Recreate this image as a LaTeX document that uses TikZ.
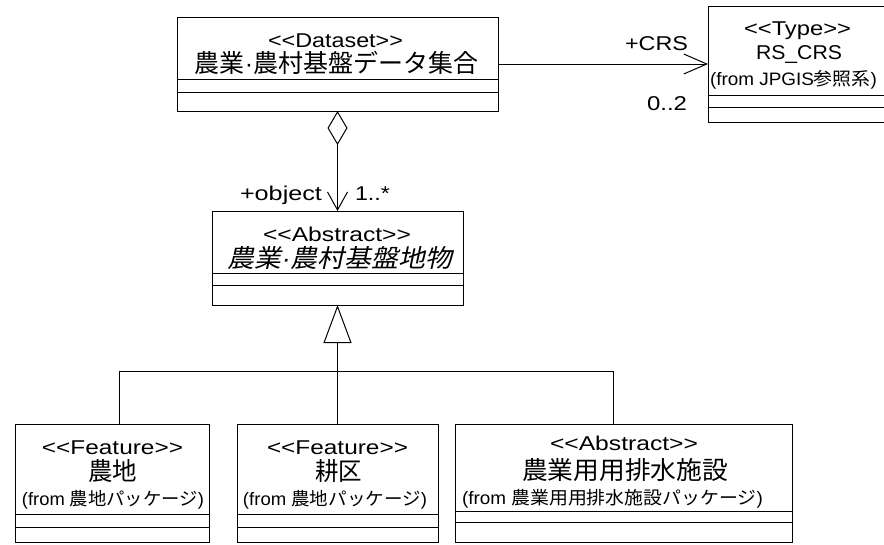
\documentclass[tikz,border=0pt]{standalone}
\usepackage{fontspec}
\usepackage{graphicx}
\setmainfont{Liberation Sans}
\newfontfamily\jp{Noto Sans CJK JP}
\newfontfamily\jpit[FakeSlant=0.2]{Noto Sans CJK JP}
\usetikzlibrary{arrows.meta}
\newcommand{\fitw}[2]{\resizebox{#1pt}{\height}{#2}}
\tikzset{
  umlbox/.style={draw, line width=1pt, rectangle, inner sep=0pt, outer sep=0pt},
  txt/.style={inner sep=0pt, outer sep=0pt, anchor=base},
  ctxt/.style={inner sep=0pt, outer sep=0pt, anchor=center},
  lat/.style={font=\fontsize{20}{22}\selectfont},
  frm/.style={font=\fontsize{18}{20}\selectfont},
  cjk/.style={font=\jp\fontsize{25}{28}\selectfont},
  cjkit/.style={font=\jpit\fontsize{25}{28}\selectfont},
  conn/.style={line width=1pt},
  divider/.style={line width=1pt},
}
\begin{document}
\begin{tikzpicture}[x=1pt,y=-1pt]
\useasboundingbox[fill=white] (0,0) rectangle (884,544);

% ---- boxes ----
\node[umlbox, minimum width=321pt, minimum height=94pt] (ds) at (337.5,64) {};
\node[umlbox, minimum width=178pt, minimum height=116pt] (crs) at (797,64) {};
\node[umlbox, minimum width=251pt, minimum height=94pt] (ab) at (337.5,258) {};
\node[umlbox, minimum width=194pt, minimum height=118pt] (fa) at (112,483) {};
\node[umlbox, minimum width=201pt, minimum height=118pt] (fb) at (337.5,483) {};
\node[umlbox, minimum width=337pt, minimum height=118pt] (fc) at (623.5,483) {};

% ---- compartments ----
\draw[divider] (177,79) -- (498,79);
\draw[divider] (177,92) -- (498,92);
\draw[divider] (708,95) -- (886,95);
\draw[divider] (708,107) -- (886,107);
\draw[divider] (212,273) -- (463,273);
\draw[divider] (212,285) -- (463,285);
\draw[divider] (15,514) -- (209,514);
\draw[divider] (15,527) -- (209,527);
\draw[divider] (237,514) -- (438,514);
\draw[divider] (237,527) -- (438,527);
\draw[divider] (455,511) -- (792,511);
\draw[divider] (455,522) -- (792,522);

% ---- texts ----
\node[txt,lat] (t1) at (335.5,47.5) {\fitw{135}{<{}<Dataset>{}>}};
\node[ctxt,cjk] (t2) at (336.5,62.5) {\fitw{283}{農業{\fontspec{Liberation Sans}·}農村基盤データ集合}};

\node[txt,lat] (t3) at (797.5,35) {\fitw{107}{<{}<Type>{}>}};
\node[txt,lat] (t4) at (799,59.3) {\fitw{86}{RS\_CRS}};
\node[txt,frm] (t5) at (793.5,85) {\fitw{167}{(from JPGIS{\jp 参照系})}};

\node[txt,lat] (t6) at (337,241.7) {\fitw{148}{<{}<Abstract>{}>}};
\node[ctxt,cjkit] (t7) at (340,258.3) {\fitw{224}{農業{\fontspec{Liberation Sans}\itshape ·}農村基盤地物}};

\node[txt,lat] (t8) at (112.5,454) {\fitw{141}{<{}<Feature>{}>}};
\node[ctxt,cjk] (t9) at (112.5,471) {\fitw{49}{農地}};
\node[txt,frm] (t10) at (113,505) {\fitw{182}{(from {\jp 農地パッケージ})}};

\node[txt,lat] (t11) at (337.5,454) {\fitw{141}{<{}<Feature>{}>}};
\node[ctxt,cjk] (t12) at (338.5,471) {\fitw{47}{耕区}};
\node[txt,frm] (t13) at (335,505) {\fitw{184}{(from {\jp 農地パッケージ})}};

\node[txt,lat] (t14) at (624,450) {\fitw{148}{<{}<Abstract>{}>}};
\node[ctxt,cjk] (t15) at (625,470.5) {\fitw{206}{農業用用排水施設}};
\node[txt,frm] (t16) at (612.5,504) {\fitw{301}{(from {\jp 農業用用排水施設パッケージ})}};

% ---- role labels ----
\node[txt,lat] (l1) at (656.5,50) {\fitw{63}{+CRS}};
\node[txt,lat] (l2) at (667,110) {\fitw{40}{0..2}};
\node[txt,lat] (l3) at (281,200) {\fitw{82}{+object}};
\node[txt,lat] (l4) at (372.5,200) {\fitw{35}{1..*}};

% ---- connectors ----
\draw[conn, -{Straight Barb[length=23pt,width=20pt,line width=1pt]}] (ds) -- (crs);
\draw[conn, {Diamond[open,length=34pt,width=20pt,line width=1pt]}-{Straight Barb[length=18pt,width=20pt,line width=1pt]}] (ds.south) -- (ab.north);
\coordinate (jl) at (119,371);
\coordinate (jr) at (613,371);
\draw[conn, -{Triangle[open,length=38pt,width=28pt,line width=1pt]}] (fb.north) -- (ab.south);
\draw[conn] (fa.north -| jl) -- (jl) -- (jr) -- (fc.north -| jr);
\end{tikzpicture}
\end{document}
